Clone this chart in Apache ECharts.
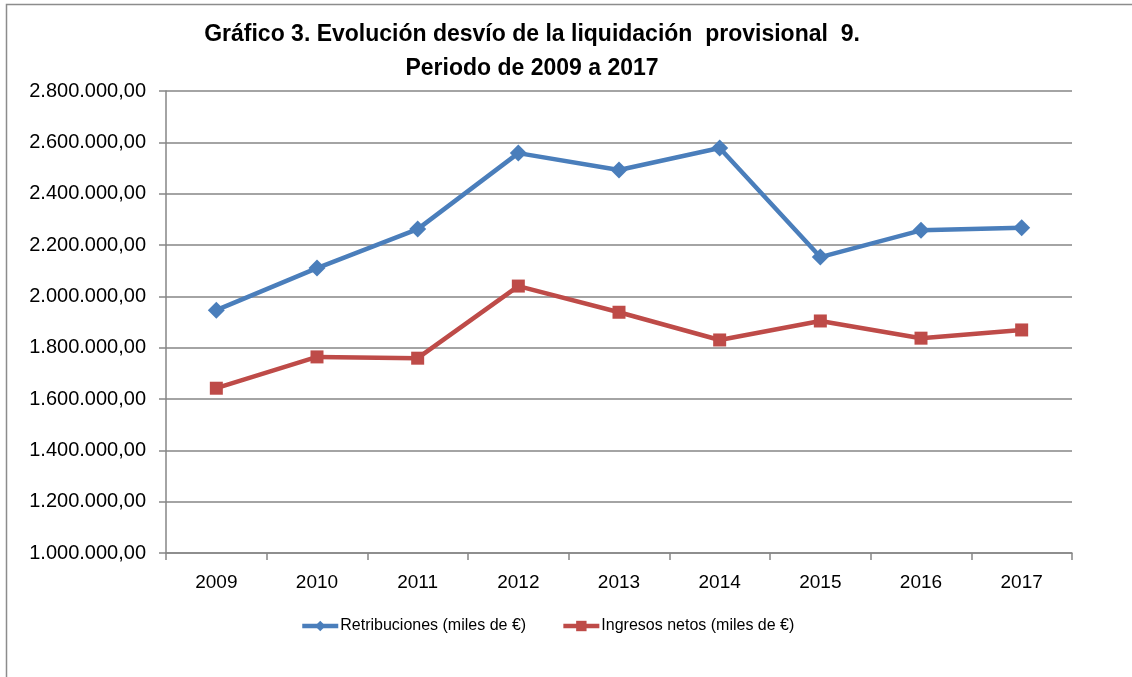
<!DOCTYPE html>
<html><head><meta charset="utf-8">
<script src="https://cdn.jsdelivr.net/npm/echarts@6/dist/echarts.min.js"></script>
<style>html,body{margin:0;padding:0;background:#fff}#c{width:1132px;height:677px}</style>
</head><body><div id="c"></div>
<script>
const years = ['2009','2010','2011','2012','2013','2014','2015','2016','2017'];
const retribuciones = [1946000, 2110000, 2262000, 2558000, 2492000, 2578000, 2153000, 2257000, 2267000];
const ingresos = [1642000, 1764000, 1759000, 2040000, 1938000, 1830000, 1904000, 1837000, 1869000];
const seriesNames = ['Retribuciones (miles de €)', 'Ingresos netos (miles de €)'];
const titleLines = ['Gráfico 3. Evolución desvío de la liquidación  provisional  9.', 'Periodo de 2009 a 2017'];

function fmt(v){
  const s = Math.round(v).toString().replace(/\B(?=(\d{3})+(?!\d))/g, '.');
  return s + ',00';
}
const FONT = 'Liberation Sans';
const chart = echarts.init(document.getElementById('c'), null, {renderer:'canvas'});
chart.setOption({
  animation:false,
  backgroundColor:'#fff',
  textStyle:{fontFamily:FONT},
  title:{
    text: titleLines.join('\n'),
    left: 527, top: 13, textAlign:'center',
    textStyle:{fontFamily:FONT, fontWeight:'bold', fontSize:23, color:'#000', lineHeight:34}
  },
  graphic:[{type:'rect', shape:{x:6.5,y:4.5,width:1140,height:700}, style:{fill:null, stroke:'#8c8c8c', lineWidth:1.5}, silent:true, z:-1}],
  legend:{
    data: seriesNames, top: 613, left: 295, itemWidth:36, itemHeight:13, itemGap:35,
    lineStyle:{width:4.5},
    textStyle:{fontFamily:FONT, fontSize:16, color:'#000', padding:[0,0,0,-3]}
  },
  grid:{left:166, right:60, top:91, bottom:124, containLabel:false},
  xAxis:{
    type:'category', data: years, boundaryGap:true,
    axisLine:{lineStyle:{color:'#868686', width:1.5}},
    axisTick:{show:true, length:7, interval:0, lineStyle:{color:'#868686', width:1.5}},
    axisLabel:{color:'#000', fontSize:19, margin:20, fontFamily:FONT}
  },
  yAxis:{
    type:'value', min:1000000, max:2800000, interval:200000,
    axisLine:{show:true, lineStyle:{color:'#868686', width:1.5}},
    axisTick:{show:true, length:7, lineStyle:{color:'#868686', width:1.5}},
    splitLine:{lineStyle:{color:'#868686', width:1.5}},
    axisLabel:{color:'#000', fontSize:20, margin:20, fontFamily:FONT, formatter:fmt}
  },
  series:[
    {name:seriesNames[0], type:'line', data:retribuciones, symbol:'diamond', symbolSize:17,
     lineStyle:{color:'#4a7ebb', width:4.5}, itemStyle:{color:'#4a7ebb'}},
    {name:seriesNames[1], type:'line', data:ingresos, symbol:'rect', symbolSize:13,
     lineStyle:{color:'#be4b48', width:4.5}, itemStyle:{color:'#be4b48'}}
  ]
});
</script></body></html>
